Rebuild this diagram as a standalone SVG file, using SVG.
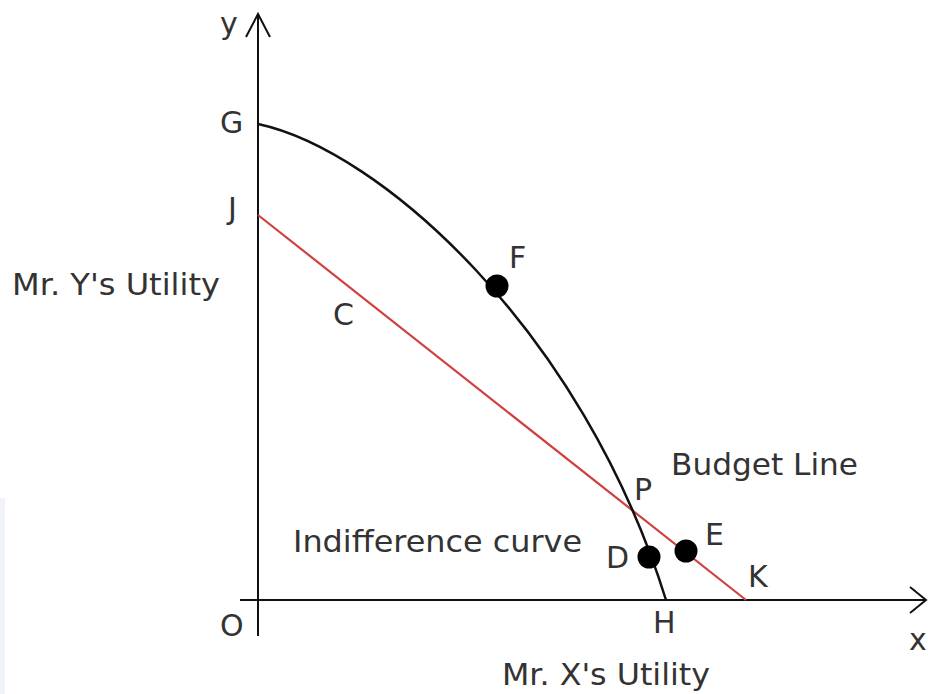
<svg xmlns="http://www.w3.org/2000/svg" width="928" height="694" viewBox="0 0 928 694">
<style>
text{font-family:"DejaVu Sans","Verdana",sans-serif;font-size:30px;fill:#333}
.axis{stroke:#111;stroke-width:2;fill:none}
.curve{stroke:#111;stroke-width:2.5;fill:none}
.budget{stroke:#d0403f;stroke-width:2.2;fill:none}
.dot{fill:#000}
</style>
<rect width="928" height="694" fill="#fff"/>
<rect x="0" y="498" width="5" height="196" fill="#f0f4f8"/>
<g id="connectors">
<path class="axis" d="M258,14 V636"/>
<path class="axis" d="M246,37 L258,14 L270,37"/>
<path class="axis" d="M240,600 H926"/>
<path class="axis" d="M910,587 L926,600 L910,613"/>
<path class="budget" d="M258,215 L746,600"/>
<path class="curve" d="M258,124 C380,150 582,330 666,600"/>
</g>
<g id="F"><circle class="dot" cx="497" cy="286" r="11.5"/><text x="509" y="268">F</text></g>
<g id="D"><circle class="dot" cx="649" cy="557" r="11.5"/><text x="606" y="568">D</text></g>
<g id="E"><circle class="dot" cx="686" cy="551" r="11.5"/><text x="705" y="545">E</text></g>
<g id="labels">
<text x="220" y="34">y</text>
<text x="220" y="133">G</text>
<text x="228" y="219">J</text>
<text x="333" y="325">C</text>
<text x="634" y="500">P</text>
<text x="748" y="587">K</text>
<text x="653" y="633">H</text>
<text x="220" y="636">O</text>
<text x="909" y="650">x</text>
<text x="12" y="295" textLength="208" lengthAdjust="spacingAndGlyphs">Mr. Y's Utility</text>
<text x="502" y="685" textLength="208" lengthAdjust="spacingAndGlyphs">Mr. X's Utility</text>
<text x="293" y="552" textLength="289" lengthAdjust="spacingAndGlyphs">Indifference curve</text>
<text x="671" y="475" textLength="187" lengthAdjust="spacingAndGlyphs">Budget Line</text>
</g>
</svg>
